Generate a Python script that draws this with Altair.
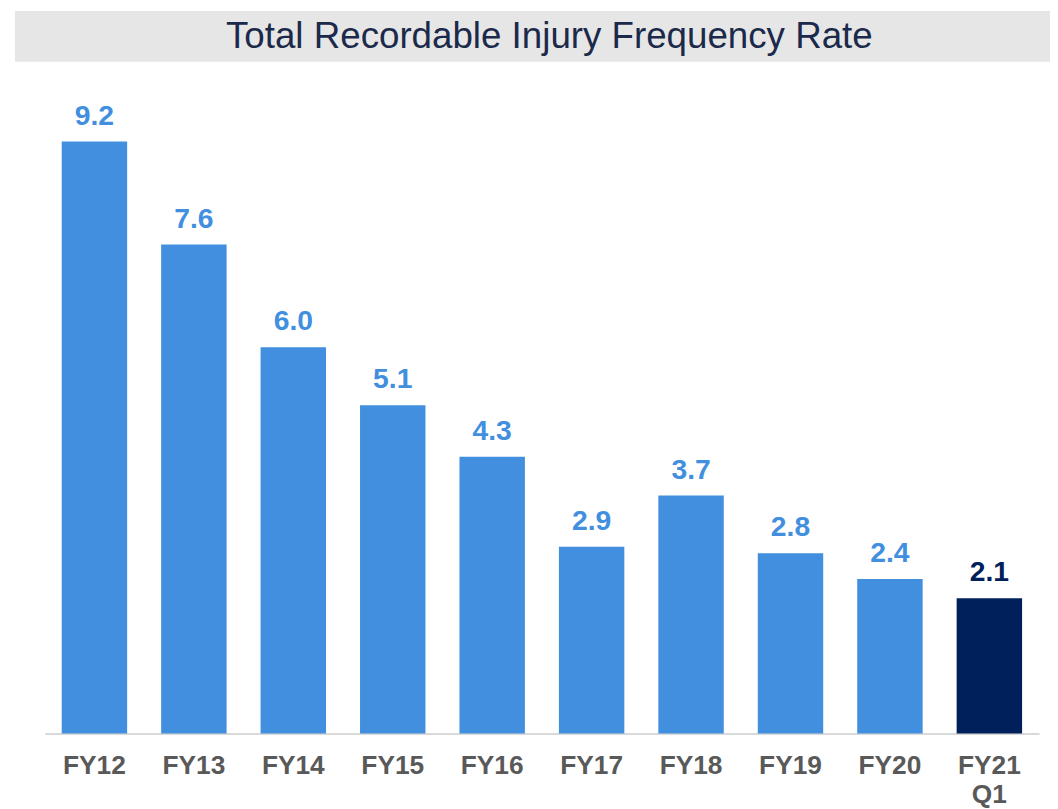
import altair as alt
import pandas as pd

categories = ["FY12", "FY13", "FY14", "FY15", "FY16", "FY17", "FY18", "FY19", "FY20", "FY21 Q1"]
values = [9.2, 7.6, 6.0, 5.1, 4.3, 2.9, 3.7, 2.8, 2.4, 2.1]
groups = ["hist"] * 9 + ["current"]
labels = ["9.2", "7.6", "6.0", "5.1", "4.3", "2.9", "3.7", "2.8", "2.4", "2.1"]
title_text = "Total Recordable Injury Frequency Rate"

df = pd.DataFrame({"cat": categories, "val": values, "grp": groups, "lbl": labels})

W = 1002
H = 648.5

color = alt.Color("grp:N", scale=alt.Scale(domain=["hist", "current"], range=["#418FDE", "#00205B"]), legend=None)

x = alt.X("cat:N", sort=categories,
          scale=alt.Scale(paddingInner=0.342, paddingOuter=0.171),
          axis=alt.Axis(title=None, labelAngle=0, ticks=False, domainColor="#D9D9D9", domainWidth=2,
                        labelFont="Liberation Sans", labelFontSize=26.5, labelFontWeight="bold",
                        labelColor="#595959", labelPadding=19, labelLineHeight=30,
                        labelExpr="datum.value == 'FY21 Q1' ? ['FY21', 'Q1'] : datum.value"))
y = alt.Y("val:Q", scale=alt.Scale(domain=[0, 10], nice=False), axis=None)

base = alt.Chart(df)

banner = base.mark_rect(color="#E7E6E6").encode(
    x=alt.value(-30), x2=alt.value(1013), y=alt.value(-79.5), y2=alt.value(-28.5)
).transform_filter("datum.cat == 'FY12'")

title = base.mark_text(font="Liberation Sans", fontSize=37, color="#1B2A4A", align="center",
                       baseline="alphabetic").encode(
    x=alt.value(508.5), y=alt.value(-42.5), text=alt.value(title_text)
).transform_filter("datum.cat == 'FY12'")

bars = base.mark_bar().encode(x=x, y=y, color=color)

text = base.mark_text(font="Liberation Sans", fontSize=28.5, fontWeight="bold", baseline="alphabetic",
                      dy=-17).encode(x=x, y=y, text="lbl:N", color=color)

chart = alt.layer(banner, title, bars, text).properties(
    width=W, height=H,
    autosize=alt.AutoSizeParams(type="none"),
    padding={"left": 37, "top": 79.5, "right": 11, "bottom": 72},
).configure(background="white").configure_view(stroke=None)

chart.save("out.html", embed_options={"renderer": "svg", "actions": False})
